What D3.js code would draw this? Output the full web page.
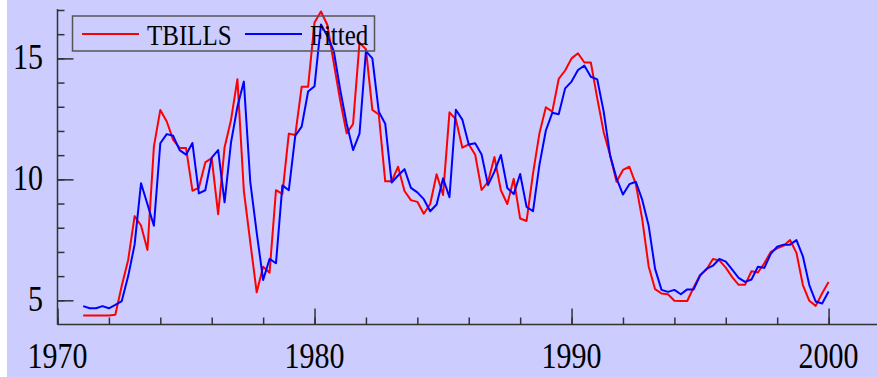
<!DOCTYPE html>
<html>
<head>
<meta charset="utf-8">
<script src="https://cdn.jsdelivr.net/npm/d3@7"></script>
<style>
  html, body { margin: 0; padding: 0; background: #fff; }
  svg { display: block; }
  .lbl { font-family: "Liberation Serif", "Times New Roman", serif; fill: #000; }
</style>
</head>
<body>
<svg id="chart" width="877" height="377"></svg>
<script>
// quarterly data, 1971Q1 .. 2000Q1
const startYear = 1971;
const seriesNames = ['TBILLS', 'Fitted'];
const seriesColors = ['#ff0000', '#0000ff'];

const tbills = [
  4.37, 4.37, 4.37, 4.37, 4.37, 4.40, 5.60, 6.67, 8.48, 8.09,
  7.08, 11.35, 12.87, 12.39, 11.63, 11.30, 11.30, 9.53, 9.65, 10.70,
  10.88, 8.56, 11.32, 12.45, 14.14, 9.52, 7.40, 5.33, 6.39, 6.14,
  9.55, 9.40, 11.89, 11.83, 13.83, 13.83, 16.48, 16.94, 16.38, 14.80,
  13.25, 11.90, 12.29, 15.65, 15.38, 12.87, 12.68, 9.92, 9.92, 10.52,
  9.52, 9.14, 9.07, 8.58, 8.98, 10.21, 9.35, 12.77, 12.48, 11.31,
  11.45, 11.02, 9.56, 9.90, 10.92, 9.55, 8.98, 10.02, 8.38, 8.28,
  10.24, 11.90, 12.98, 12.80, 14.15, 14.50, 15.00, 15.21, 14.83, 14.83,
  13.35, 11.95, 11.00, 9.90, 10.39, 10.52, 9.80, 8.35, 6.40, 5.46,
  5.28, 5.25, 4.98, 4.97, 4.97, 5.53, 6.05, 6.27, 6.71, 6.65,
  6.35, 5.96, 5.64, 5.64, 6.20, 6.15, 6.53, 7.00, 7.15, 7.26,
  7.49, 6.96, 5.63, 4.98, 4.77, 5.29, 5.76
];

const fitted = [
  4.76, 4.67, 4.67, 4.76, 4.67, 4.81, 4.97, 6.00, 7.30, 9.84,
  8.97, 8.08, 11.49, 11.87, 11.80, 11.21, 11.02, 11.50, 9.42, 9.55,
  10.90, 11.21, 9.05, 11.52, 13.00, 14.04, 9.90, 7.80, 5.84, 6.71,
  6.53, 9.75, 9.55, 11.80, 12.18, 13.63, 13.85, 16.40, 15.93, 15.30,
  13.70, 12.30, 11.21, 11.89, 15.30, 15.00, 12.80, 12.30, 9.87, 10.16,
  10.42, 9.65, 9.46, 9.18, 8.68, 8.96, 10.04, 9.26, 12.88, 12.47,
  11.44, 11.49, 11.03, 9.76, 10.32, 11.01, 9.64, 9.39, 10.22, 8.86,
  8.68, 10.60, 12.02, 12.75, 12.69, 13.76, 14.04, 14.52, 14.70, 14.24,
  14.13, 12.80, 10.98, 10.04, 9.37, 9.80, 9.90, 9.15, 8.08, 6.30,
  5.43, 5.35, 5.43, 5.25, 5.45, 5.45, 6.02, 6.30, 6.43, 6.71,
  6.60, 6.27, 5.93, 5.76, 5.86, 6.39, 6.34, 6.92, 7.22, 7.30,
  7.30, 7.49, 6.82, 5.63, 4.95, 4.87, 5.36
];

const xMajorTicks = [1970, 1980, 1990, 2000];
const xMinorTicks = d3.range(1970, 2002, 2);
const yMajorTicks = [5, 10, 15];
const yMinorTicks = d3.range(5, 18, 1);

const W = 877, H = 377;
const svg = d3.select('#chart');

svg.append('rect').attr('width', W).attr('height', H).attr('fill', '#ccccff');
svg.append('rect').attr('width', 7).attr('height', H).attr('fill', '#ffffff');

const x = d3.scaleLinear().domain([1970, 2002]).range([57.5, 880]);
const y = d3.scaleLinear().domain([4, 17]).range([324.5, 10]);

const axisCol = '#333';

// y axis (ticks point into the plot)
svg.append('g')
  .attr('transform', `translate(${x(1970)},0)`)
  .call(d3.axisRight(y).tickValues(yMinorTicks).tickSize(7).tickFormat(''))
  .call(g => g.select('.domain').remove())
  .call(g => g.selectAll('line').attr('stroke', axisCol).attr('stroke-width', 1.5));
svg.append('g')
  .attr('transform', `translate(${x(1970)},0)`)
  .call(d3.axisRight(y).tickValues(yMajorTicks).tickSize(16).tickFormat(''))
  .call(g => g.select('.domain').remove())
  .call(g => g.selectAll('line').attr('stroke', axisCol).attr('stroke-width', 1.5));
svg.append('line')
  .attr('x1', x(1970)).attr('x2', x(1970))
  .attr('y1', y(17) - 1).attr('y2', y(4))
  .attr('stroke', axisCol).attr('stroke-width', 1.5);

// x axis
svg.append('g')
  .attr('transform', `translate(0,${y(4)})`)
  .call(d3.axisTop(x).tickValues(xMinorTicks).tickSize(7).tickFormat(''))
  .call(g => g.select('.domain').remove())
  .call(g => g.selectAll('line').attr('stroke', axisCol).attr('stroke-width', 1.5));
svg.append('g')
  .attr('transform', `translate(0,${y(4)})`)
  .call(d3.axisTop(x).tickValues(xMajorTicks).tickSize(16).tickFormat(''))
  .call(g => g.select('.domain').remove())
  .call(g => g.selectAll('line').attr('stroke', axisCol).attr('stroke-width', 1.5));
svg.append('line')
  .attr('x1', x(1970)).attr('x2', W)
  .attr('y1', y(4)).attr('y2', y(4))
  .attr('stroke', axisCol).attr('stroke-width', 1.5);

// tick labels, slightly stretched vertically like the original
svg.append('g').selectAll('text')
  .data(yMajorTicks)
  .join('text')
  .attr('class', 'lbl')
  .attr('transform', d => `translate(43,${y(d) + 11}) scale(1,1.2)`)
  .attr('text-anchor', 'end')
  .attr('font-size', 30)
  .text(d => d);

svg.append('g').selectAll('text')
  .data(xMajorTicks)
  .join('text')
  .attr('class', 'lbl')
  .attr('transform', d => `translate(${x(d)},368) scale(1,1.2)`)
  .attr('text-anchor', 'middle')
  .attr('font-size', 30)
  .text(d => d);

// series
const line = d3.line()
  .x((d, i) => x(startYear + i / 4))
  .y(d => y(d));

[tbills, fitted].forEach((s, k) => {
  svg.append('path')
    .datum(s)
    .attr('fill', 'none')
    .attr('stroke', seriesColors[k])
    .attr('stroke-width', 2)
    .attr('stroke-linejoin', 'round')
    .attr('d', line);
});

// legend
const leg = svg.append('g');
leg.append('rect')
  .attr('x', 72.5).attr('y', 16)
  .attr('width', 302).attr('height', 35)
  .attr('fill', 'none')
  .attr('stroke', '#555')
  .attr('stroke-width', 1.5);

const legX = [[82, 139, 147], [245, 302, 310]];
seriesNames.forEach((name, k) => {
  leg.append('line')
    .attr('x1', legX[k][0]).attr('x2', legX[k][1])
    .attr('y1', 34).attr('y2', 34)
    .attr('stroke', seriesColors[k]).attr('stroke-width', 2);
  leg.append('text')
    .attr('class', 'lbl')
    .attr('transform', `translate(${legX[k][2]},44.5) scale(1,1.15)`)
    .attr('font-size', 25)
    .text(name);
});
</script>
</body>
</html>
